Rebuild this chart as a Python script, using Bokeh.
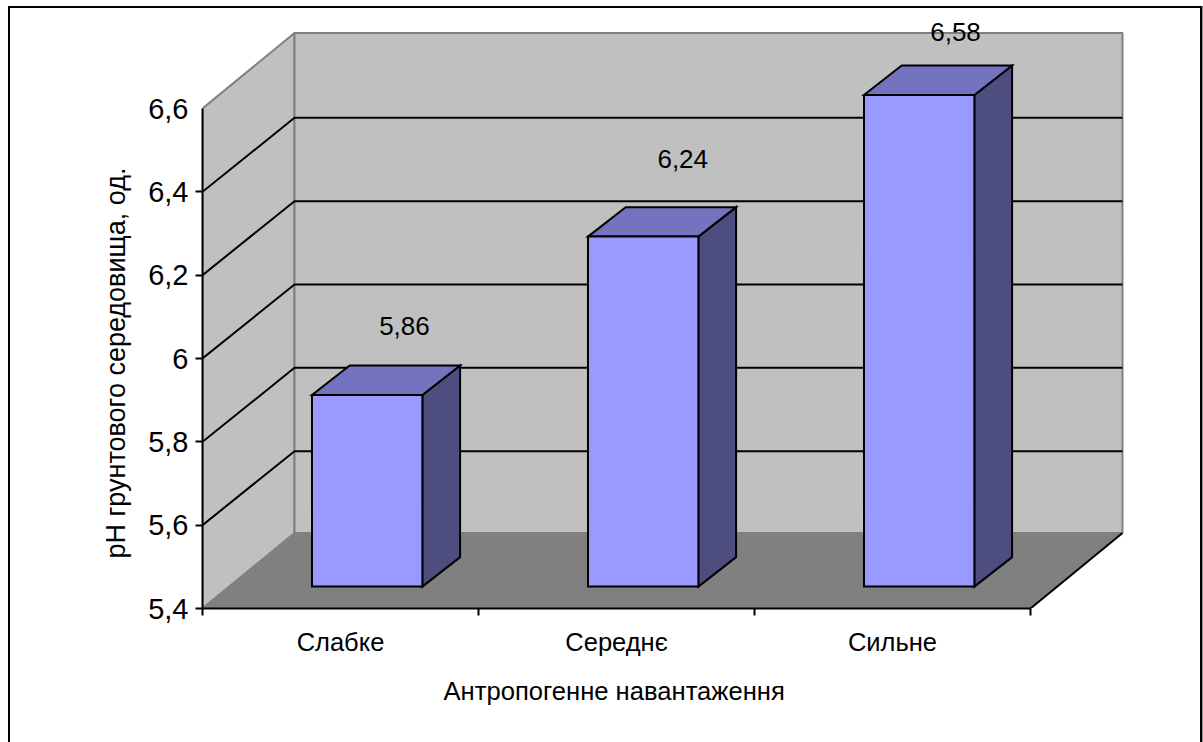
from bokeh.plotting import figure
from bokeh.models import FixedTicker, Range1d, ColumnDataSource, Title
from bokeh.core.properties import value
from bokeh.embed import file_html
from bokeh.resources import INLINE

# ---- data ----
categories = ["Слабке", "Середнє", "Сильне"]
values = [5.86, 6.24, 6.58]
value_labels = ["5,86", "6,24", "6,58"]
y_ticks = [5.4, 5.6, 5.8, 6.0, 6.2, 6.4, 6.6]
y_tick_labels = ["5,4", "5,6", "5,8", "6", "6,2", "6,4", "6,6"]
x_title = "Антропогенне навантаження"
y_title = "pH грунтового середовища, од."

# ---- layout / style ----
FONT = "Liberation Sans"
Y_MIN, Y_MAX = 5.4, 6.6
N = len(categories)
PX_X = 276.0            # px per category
PX_Y = 500.0 / 1.2      # px per value unit
ORIGIN_X, ORIGIN_Y = 10, 8      # page position of the canvas
FRAME_L, FRAME_B = 202, 608    # page position of the axes' corner
CANVAS_W, CANVAS_H = 1190, 734
FRAME_T = 10
DEPTH_X = 92 / PX_X      # oblique depth, in category units
DEPTH_Y = 75.5 / PX_Y    # oblique depth, in value units
GRID_DEPTH_Y = 74 / PX_Y
BAR_W = 0.4
BAR_F0, BAR_F1 = 0.29, 0.70    # bar front/back depth fractions
BAR_BACK_DY = DEPTH_Y * 0.68 / 0.70
LABEL_F = [0.695, 0.72, 0.685]
LABEL_LIFT = [38, 45.5, 33]

frame_w = CANVAS_W - (FRAME_L - ORIGIN_X)
frame_h = FRAME_B - FRAME_T


def proj(x, v, f=0.0, dy=DEPTH_Y):
    """Oblique projection of (category pos, value, depth fraction) to data coords."""
    return x + f * DEPTH_X, v + f * dy


def poly(pts):
    xy = [proj(*pt) for pt in pts]
    return [a for a, _ in xy], [b for _, b in xy]


p = figure(
    width=CANVAS_W, height=CANVAS_H, output_backend="svg", toolbar_location=None,
    x_range=Range1d(0, frame_w / PX_X),
    y_range=Range1d(Y_MIN, Y_MIN + frame_h / PX_Y),
    frame_width=frame_w, frame_height=frame_h,
    min_border_left=FRAME_L - ORIGIN_X, min_border_right=0,
    min_border_top=FRAME_T - ORIGIN_Y, min_border_bottom=CANVAS_H - (FRAME_B - ORIGIN_Y),
    margin=(6, 0, 0, 8),
    background_fill_color="white", border_fill_color="white",
    outline_line_color=None,
    styles={
        "border-left": "2px solid black",
        "border-top": "2px solid black",
        "border-right": "2px solid black",
        "box-shadow": "1px 0 0 #909090",
    },
)
p.grid.visible = False

# walls and floor
sx, sy = poly([(0, Y_MAX, 0), (0, Y_MAX, 1), (0, Y_MIN, 1), (0, Y_MIN, 0)])
p.patch(sx, sy, fill_color="#C0C0C0", line_color="#808080", line_width=2)
bx, by = poly([(0, Y_MAX, 1), (N, Y_MAX, 1), (N, Y_MIN, 1), (0, Y_MIN, 1)])
p.patch(bx, by, fill_color="#C0C0C0", line_color="#808080", line_width=2)
fx, fy = poly([(0, Y_MIN, 0), (N, Y_MIN, 0), (N, Y_MIN, 1), (0, Y_MIN, 1)])
p.patch(fx, fy, fill_color="#808080", line_color="#808080", line_width=1)
ex, ey = poly([(N, Y_MIN, 0), (N, Y_MIN, 1)])
p.line(ex, ey, line_color="black", line_width=2)

# gridlines
gxs, gys = [], []
for t in y_ticks[1:-1]:
    a = proj(0, t, 0, GRID_DEPTH_Y)
    b = proj(0, t, 1, GRID_DEPTH_Y)
    c = proj(N, t, 1, GRID_DEPTH_Y)
    gxs.append([a[0], b[0], c[0]])
    gys.append([a[1], b[1], c[1]])
p.multi_line(gxs, gys, line_color="black", line_width=2)

# bars
for i, v in enumerate(values):
    l, r = i + 0.5 - BAR_W / 2, i + 0.5 + BAR_W / 2
    faces = [
        ([(r, Y_MIN, BAR_F0), (r, Y_MIN, BAR_F1, BAR_BACK_DY), (r, v, BAR_F1, BAR_BACK_DY), (r, v, BAR_F0)], "#4D4D80"),
        ([(l, v, BAR_F0), (r, v, BAR_F0), (r, v, BAR_F1, BAR_BACK_DY), (l, v, BAR_F1, BAR_BACK_DY)], "#7373BF"),
        ([(l, Y_MIN, BAR_F0), (r, Y_MIN, BAR_F0), (r, v, BAR_F0), (l, v, BAR_F0)], "#9999FF"),
    ]
    for pts, col in faces:
        xs, ys = poly(pts)
        p.patch(xs, ys, fill_color=col, line_color="black", line_width=2, line_join="miter")

# value labels
lab = [proj(i + 0.5, v, f) for i, (v, f) in enumerate(zip(values, LABEL_F))]
src = ColumnDataSource(dict(
    x=[a for a, _ in lab], y=[b for _, b in lab], t=value_labels,
    off=[-d for d in LABEL_LIFT],
))
p.text("x", "y", text="t", source=src, y_offset="off", text_align="center",
       text_baseline="middle", text_font=value(FONT), text_font_size="26px", text_color="black")

# left axis
ya = p.yaxis[0]
ya.bounds = (Y_MIN, Y_MAX)
ya.ticker = FixedTicker(ticks=y_ticks, minor_ticks=y_ticks[:-1])
ya.major_label_overrides = dict(zip(y_ticks, y_tick_labels))
ya.major_tick_in = ya.major_tick_out = 0
ya.minor_tick_in, ya.minor_tick_out = 0, 7
ya.minor_tick_line_color = "black"
ya.minor_tick_line_width = 2
ya.axis_line_color = "black"
ya.axis_line_width = 2
ya.major_label_standoff = 7
ya.major_label_text_font = FONT
ya.major_label_text_font_size = "29px"
ya.major_label_text_color = "black"

# bottom axis
xa = p.xaxis[0]
xa.bounds = (0, N)
centers = [i + 0.5 for i in range(N)]
xa.ticker = FixedTicker(ticks=centers, minor_ticks=list(range(N + 1)))
xa.major_label_overrides = dict(zip(centers, categories))
xa.major_tick_in = xa.major_tick_out = 0
xa.minor_tick_in, xa.minor_tick_out = 0, 7
xa.minor_tick_line_color = "black"
xa.minor_tick_line_width = 2
xa.axis_line_color = "black"
xa.axis_line_width = 2
xa.major_label_standoff = 12
xa.major_label_text_font = FONT
xa.major_label_text_font_size = "25.5px"
xa.major_label_text_color = "black"

# axis titles (placed along the axis extent, not the wider frame)
p.add_layout(Title(text=x_title, align="left", offset=241, standoff=32,
                   text_font=FONT, text_font_size="25.6px", text_font_style="normal",
                   text_color="black"), "below")
p.add_layout(Title(text=y_title, align="left", offset=50, standoff=30,
                   text_font=FONT, text_font_size="27px", text_font_style="normal",
                   text_color="black"), "left")

open("out.html", "w").write(file_html(p, INLINE))
